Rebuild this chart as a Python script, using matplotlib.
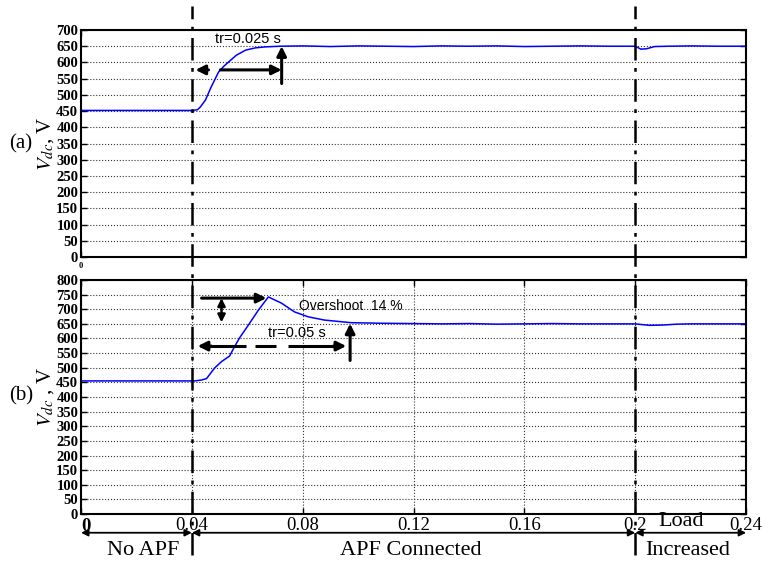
import matplotlib
matplotlib.use("Agg")
import matplotlib.pyplot as plt
from matplotlib.transforms import blended_transform_factory, ScaledTranslation
from matplotlib.lines import Line2D

plt.rcParams['font.family'] = ['Liberation Serif', 'DejaVu Serif']
plt.rcParams['mathtext.fontset'] = 'stix'

# (a) DC link voltage, PI controller
t_a = [0.0, 0.040, 0.042, 0.043, 0.0449, 0.047, 0.0496, 0.0515, 0.0532, 0.056, 0.0594,
       0.063, 0.0666, 0.072, 0.08, 0.09,
       0.10, 0.11, 0.12, 0.13, 0.14, 0.15, 0.16, 0.17, 0.18, 0.19, 0.20,
       0.202, 0.204, 0.207, 0.212, 0.22, 0.23, 0.24]
v_a = [452, 452, 454, 462, 484, 525, 570, 588, 601, 622, 638,
       645, 648, 650, 651, 649,
       651, 650, 649, 651, 650, 651, 649, 650, 651, 650, 650,
       641, 642, 649, 650, 651, 650, 650]

# (b) DC link voltage, other controller
t_b = [0.0, 0.041, 0.0435, 0.0453, 0.0482, 0.0507, 0.0536, 0.0554, 0.0572, 0.0604,
       0.0640, 0.0676, 0.0723, 0.0770, 0.0820, 0.0878, 0.0975, 0.109, 0.12, 0.13,
       0.14, 0.15, 0.16, 0.17, 0.18, 0.19, 0.20, 0.205, 0.21, 0.215, 0.22, 0.23, 0.24]
v_b = [455, 455, 458, 463, 499, 521, 540, 572, 602, 646,
       697, 742, 721, 691, 674, 663, 654, 652, 651, 650,
       651, 649, 650, 651, 650, 650, 650, 645, 646, 649, 650, 650, 650]

xticks_b = [0, 0.04, 0.08, 0.12, 0.16, 0.2, 0.24]
xticklabels_b = ['0', '0.04', '0.08', '0.12', '0.16', '0.2', '0.24']
yticks_a = list(range(0, 701, 50))
yticks_b = list(range(0, 801, 50))
events = [0.04, 0.2]

fig = plt.figure(figsize=(7.68, 5.63), dpi=100)
ax1 = fig.add_axes([0.1055, 0.5435, 0.866, 0.4032])
ax2 = fig.add_axes([0.1055, 0.0870, 0.866, 0.4157])

for ax in (ax1, ax2):
    ax.set_xlim(0, 0.24)
    ax.tick_params(direction='in', top=True, right=True, length=4, width=1)
    for s in ax.spines.values():
        s.set_linewidth(1.5)
    ax.grid(True, axis='y', linestyle=':', color='0.2', linewidth=0.8)

ax1.plot(t_a, v_a, color='#0000ff', lw=1.1)
ax1.set_ylim(0, 700)
ax1.set_yticks(yticks_a)
ax1.set_yticklabels([str(v) for v in yticks_a], fontsize=10.5, fontweight='bold')
ax1.set_xticks([0])
ax1.set_xticklabels(['0'], fontsize=6, fontweight='bold')
ax1.tick_params(axis='y', pad=2)
ax1.set_ylabel(r'$V_{dc}$, V', fontsize=15, labelpad=0)

ax2.plot(t_b, v_b, color='#0000ff', lw=1.1)
ax2.set_ylim(0, 800)
ax2.set_yticks(yticks_b)
ax2.set_yticklabels([str(v) for v in yticks_b], fontsize=10.5, fontweight='bold')
ax2.set_xticks(xticks_b)
ax2.set_xticklabels(xticklabels_b, fontsize=13.5)
ax2.get_xticklabels()[0].set_fontweight('bold')
ax2.grid(True, axis='x', linestyle=':', color='0.2', linewidth=0.8)
ax2.tick_params(axis='x', pad=2)
ax2.tick_params(axis='y', pad=2)
ax2.set_ylabel(r'$V_{dc}$ , V', fontsize=15, labelpad=0)

# nudge the x "0" right so it clears the y "0"
xlab0 = ax2.get_xticklabels()[0]
xlab0.set_transform(xlab0.get_transform() + ScaledTranslation(0.05, -0.01, fig.dpi_scale_trans))

fig.text(0.012, 0.737, '(a)', fontsize=15)
fig.text(0.012, 0.288, '(b)', fontsize=15)

# event lines across the whole figure
tr = blended_transform_factory(ax2.transData, fig.transFigure)
for e in events:
    fig.add_artist(Line2D([e, e], [0.015, 0.99], transform=tr, color='k',
                          lw=1.8, linestyle=(0, (9, 3, 1.5, 3))))

arr = dict(arrowstyle='-|>', color='k', lw=2.2, mutation_scale=14, shrinkA=0, shrinkB=0)
sans = ['Liberation Sans', 'DejaVu Sans']

# annotations (a)
ax1.annotate('', xy=(0.0413, 577), xytext=(0.046, 577), arrowprops=arr)
ax1.annotate('', xy=(0.0724, 577), xytext=(0.0503, 577), arrowprops=arr)
ax1.annotate('', xy=(0.0724, 650), xytext=(0.0724, 535), arrowprops=arr)
ax1.text(0.0483, 660, 'tr=0.025 s', fontsize=10.5, family=sans)

# annotations (b)
ax2.annotate('', xy=(0.0669, 738), xytext=(0.0435, 738), arrowprops=arr)
arr2 = dict(arrowstyle='<|-|>', color='k', lw=1.8, mutation_scale=11, shrinkA=0, shrinkB=0)
ax2.annotate('', xy=(0.0507, 738), xytext=(0.0507, 655), arrowprops=arr2)
ax2.text(0.0785, 698, 'Overshoot  14 %', fontsize=10, family=sans)
ax2.text(0.0675, 604, 'tr=0.05 s', fontsize=10.5, family=sans)
for a, b in [(0.046, 0.0597), (0.0626, 0.0705), (0.0748, 0.092)]:
    ax2.plot([a, b], [574, 574], color='k', lw=2.2, solid_capstyle='butt')
ax2.annotate('', xy=(0.0421, 574), xytext=(0.047, 574), arrowprops=arr)
ax2.annotate('', xy=(0.0957, 574), xytext=(0.091, 574), arrowprops=arr)
ax2.annotate('', xy=(0.0971, 651), xytext=(0.0971, 525), arrowprops=arr)

# operating regions under the time axis
bt = blended_transform_factory(ax2.transData, ax2.transAxes)
arr3 = dict(arrowstyle='<|-|>', color='k', lw=1.3, mutation_scale=10, shrinkA=0, shrinkB=0)
yb = -0.08
for a, b in [(0.0, 0.04), (0.04, 0.2), (0.2, 0.24)]:
    ax2.annotate('', xy=(a, yb), xytext=(b, yb), xycoords=bt, textcoords=bt, arrowprops=arr3)
ax2.text(0.0225, -0.155, 'No APF', transform=bt, fontsize=16, ha='center', va='center')
ax2.text(0.119, -0.155, 'APF Connected', transform=bt, fontsize=16, ha='center', va='center')
ax2.text(0.2165, -0.03, 'Load', transform=bt, fontsize=16, ha='center', va='center')
ax2.text(0.219, -0.155, 'Increased', transform=bt, fontsize=16, ha='center', va='center')

fig.savefig('out.png', dpi=100)
